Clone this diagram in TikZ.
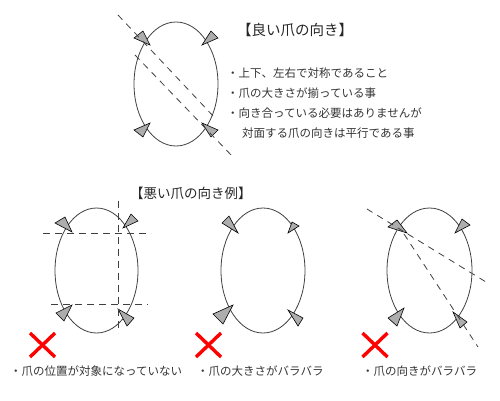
\documentclass[tikz,border=0pt]{standalone}
\usepackage{fontspec}
\newfontfamily\jp{Noto Sans CJK JP}
\begin{document}
\begin{tikzpicture}[x=1pt,y=-1pt,
  oval/.style={draw=black!75,line width=0.8pt},
  claw/.style={draw=black,line width=0.6pt,fill=black!32,line join=miter},
  guide/.style={draw=black!75,line width=0.8pt,dash pattern=on 6.5pt off 5.5pt},
  cross/.style={draw=red,line width=3.4pt},
  txt/.style={inner sep=0pt,anchor=west,text=black!80,font=\jp\fontsize{11.5}{13}\selectfont},
  ttl/.style={inner sep=0pt,anchor=west,text=black!85,font=\jp\fontsize{14.5}{16}\selectfont}]
\useasboundingbox (0,0) rectangle (500,400);
% ---------- good example ----------
\coordinate (g) at (176,84);
\draw[oval] (g) ellipse [x radius=42,y radius=62];
\draw[claw] (134,38) -- (143,31) -- (150,45) -- cycle;
\draw[claw] (211,31) -- (218,38) -- (202,45) -- cycle;
\draw[claw] (134,130) -- (143,137) -- (150,123) -- cycle;
\draw[claw] (211,137) -- (218,130) -- (202,123) -- cycle;
\coordinate (gA1) at (118,15); \coordinate (gA2) at (215,118);
\coordinate (gB1) at (135,55); \coordinate (gB2) at (234,158);
\draw[guide] (gA1) -- (gA2);
\draw[guide] (gB1) -- (gB2);
\node[ttl] (t1) at (237,30) {【良い爪の向き】};
\node[txt] (b1) at (227,73) {・上下、左右で対称であること};
\node[txt] (b2) at (227,93) {・爪の大きさが揃っている事};
\node[txt] (b3) at (227,113) {・向き合っている必要はありませんが};
\node[txt] (b4) at (242,133) {対面する爪の向きは平行である事};
% ---------- bad examples ----------
\node[ttl,font=\jp\fontsize{13.5}{15}\selectfont] (t2) at (130,193) {【悪い爪の向き例】};
% example 1
\coordinate (e1) at (96.5,270.5);
\draw[oval] (e1) ellipse [x radius=41.5,y radius=62.5];
\draw[claw] (55,223) -- (65,217) -- (72,232) -- cycle;
\draw[claw] (131,214) -- (138,221) -- (123,228) -- cycle;
\draw[claw] (56,313) -- (64,321) -- (72,305) -- cycle;
\draw[claw] (118,309) -- (134,318) -- (127,326) -- cycle;
\coordinate (h1a) at (43,233); \coordinate (h1b) at (151,233);
\coordinate (h2a) at (51,304); \coordinate (h2b) at (148,304);
\coordinate (v1a) at (118,201); \coordinate (v1b) at (118,333);
\draw[guide] (h1a) -- (h1b);
\draw[guide] (h2a) -- (h2b);
\draw[guide] (v1a) -- (v1b);
% example 2
\coordinate (e2) at (263,270.5);
\draw[oval] (e2) ellipse [x radius=42,y radius=62.5];
\draw[claw] (222,223) -- (229,216) -- (238,233) -- cycle;
\draw[claw] (292,222) -- (299,226) -- (288,233) -- cycle;
\draw[claw] (213,314) -- (223,324) -- (233,305) -- cycle;
\draw[claw] (288,310) -- (303,318) -- (298,326) -- cycle;
% example 3
\coordinate (e3) at (429.5,270.5);
\draw[oval] (e3) ellipse [x radius=42.5,y radius=62.5];
\draw[claw] (388,227) -- (397,220) -- (407,233) -- cycle;
\draw[claw] (462,219) -- (470,225) -- (455,233) -- cycle;
\draw[claw] (388,318) -- (397,326) -- (404,308) -- cycle;
\draw[claw] (453,312) -- (467,322) -- (460,328) -- cycle;
\coordinate (k1a) at (367,209); \coordinate (k1b) at (486,282);
\coordinate (k2a) at (404,234); \coordinate (k2b) at (478,347);
\draw[guide] (k1a) -- (k1b);
\draw[guide] (k2a) -- (k2b);
% crosses
\foreach \cx/\nm in {42.5/x1,208.5/x2,375/x3}{
  \coordinate (\nm) at (\cx,345);
  \draw[cross] ([shift={(-12.5,-12)}]\nm) -- ([shift={(12.5,12)}]\nm);
  \draw[cross] ([shift={(12.5,-12)}]\nm) -- ([shift={(-12.5,12)}]\nm);
}
\node[txt] (c1) at (10,371) {・爪の位置が対象になっていない};
\node[txt] (c2) at (197,371) {・爪の大きさがバラバラ};
\node[txt] (c3) at (362,371) {・爪の向きがバラバラ};
\end{tikzpicture}
\end{document}
